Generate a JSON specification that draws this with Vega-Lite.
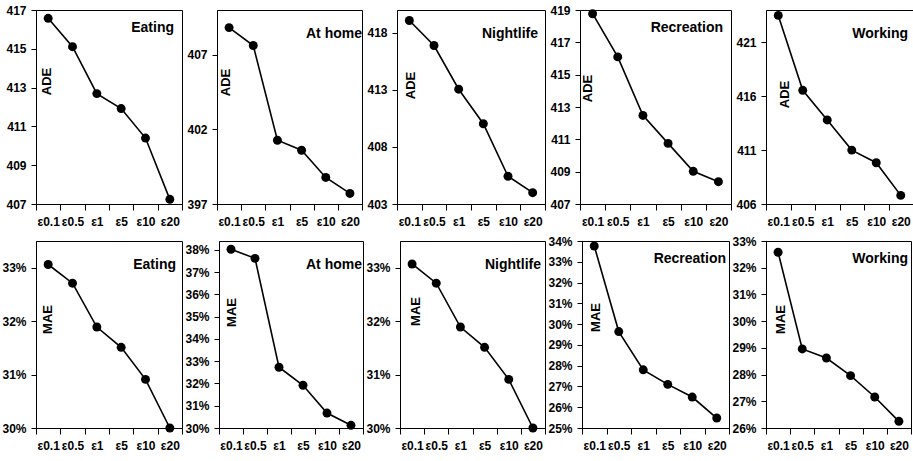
{
"$schema":"https://vega.github.io/schema/vega-lite/v6.json",
"padding":{"left":1,"top":3,"right":0,"bottom":0},
"data":{"values":[
{"a":"Eating","m":"ADE","e":"ε0.1","v":416.57},{"a":"Eating","m":"ADE","e":"ε0.5","v":415.11},{"a":"Eating","m":"ADE","e":"ε1","v":412.69},{"a":"Eating","m":"ADE","e":"ε5","v":411.92},{"a":"Eating","m":"ADE","e":"ε10","v":410.40},{"a":"Eating","m":"ADE","e":"ε20","v":407.24},
{"a":"At home","m":"ADE","e":"ε0.1","v":408.82},{"a":"At home","m":"ADE","e":"ε0.5","v":407.62},{"a":"At home","m":"ADE","e":"ε1","v":401.27},{"a":"At home","m":"ADE","e":"ε5","v":400.60},{"a":"At home","m":"ADE","e":"ε10","v":398.78},{"a":"At home","m":"ADE","e":"ε20","v":397.71},
{"a":"Nightlife","m":"ADE","e":"ε0.1","v":419.08},{"a":"Nightlife","m":"ADE","e":"ε0.5","v":416.89},{"a":"Nightlife","m":"ADE","e":"ε1","v":413.06},{"a":"Nightlife","m":"ADE","e":"ε5","v":410.03},{"a":"Nightlife","m":"ADE","e":"ε10","v":405.43},{"a":"Nightlife","m":"ADE","e":"ε20","v":403.99},
{"a":"Recreation","m":"ADE","e":"ε0.1","v":418.77},{"a":"Recreation","m":"ADE","e":"ε0.5","v":416.10},{"a":"Recreation","m":"ADE","e":"ε1","v":412.48},{"a":"Recreation","m":"ADE","e":"ε5","v":410.75},{"a":"Recreation","m":"ADE","e":"ε10","v":409.02},{"a":"Recreation","m":"ADE","e":"ε20","v":408.38},
{"a":"Working","m":"ADE","e":"ε0.1","v":423.50},{"a":"Working","m":"ADE","e":"ε0.5","v":416.55},{"a":"Working","m":"ADE","e":"ε1","v":413.80},{"a":"Working","m":"ADE","e":"ε5","v":411.00},{"a":"Working","m":"ADE","e":"ε10","v":409.83},{"a":"Working","m":"ADE","e":"ε20","v":406.80},
{"a":"Eating","m":"MAE","e":"ε0.1","v":0.3306},{"a":"Eating","m":"MAE","e":"ε0.5","v":0.3271},{"a":"Eating","m":"MAE","e":"ε1","v":0.3189},{"a":"Eating","m":"MAE","e":"ε5","v":0.3151},{"a":"Eating","m":"MAE","e":"ε10","v":0.3091},{"a":"Eating","m":"MAE","e":"ε20","v":0.3000},
{"a":"At home","m":"MAE","e":"ε0.1","v":0.3803},{"a":"At home","m":"MAE","e":"ε0.5","v":0.3762},{"a":"At home","m":"MAE","e":"ε1","v":0.3273},{"a":"At home","m":"MAE","e":"ε5","v":0.3192},{"a":"At home","m":"MAE","e":"ε10","v":0.3067},{"a":"At home","m":"MAE","e":"ε20","v":0.3012},
{"a":"Nightlife","m":"MAE","e":"ε0.1","v":0.3307},{"a":"Nightlife","m":"MAE","e":"ε0.5","v":0.3271},{"a":"Nightlife","m":"MAE","e":"ε1","v":0.3189},{"a":"Nightlife","m":"MAE","e":"ε5","v":0.3151},{"a":"Nightlife","m":"MAE","e":"ε10","v":0.3091},{"a":"Nightlife","m":"MAE","e":"ε20","v":0.3000},
{"a":"Recreation","m":"MAE","e":"ε0.1","v":0.3376},{"a":"Recreation","m":"MAE","e":"ε0.5","v":0.2964},{"a":"Recreation","m":"MAE","e":"ε1","v":0.2780},{"a":"Recreation","m":"MAE","e":"ε5","v":0.2710},{"a":"Recreation","m":"MAE","e":"ε10","v":0.2649},{"a":"Recreation","m":"MAE","e":"ε20","v":0.2548},
{"a":"Working","m":"MAE","e":"ε0.1","v":0.3258},{"a":"Working","m":"MAE","e":"ε0.5","v":0.2896},{"a":"Working","m":"MAE","e":"ε1","v":0.2862},{"a":"Working","m":"MAE","e":"ε5","v":0.2796},{"a":"Working","m":"MAE","e":"ε10","v":0.2716},{"a":"Working","m":"MAE","e":"ε20","v":0.2625}
]},
"spacing":6,
"vconcat":[
{"hconcat":[
{"width":146,"height":194,"title":{"text":"Eating","dx":-8},
"transform":[{"filter":"datum.a==='Eating' && datum.m==='ADE'"}],
"encoding":{"x":{"field":"e","type":"ordinal","sort":["ε0.1","ε0.5","ε1","ε5","ε10","ε20"],"scale":{"type":"band","paddingInner":0,"paddingOuter":0},"axis":{"title":null,"tickBand":"extent","labelAngle":0,"labelOverlap":false}},
"y":{"field":"v","type":"quantitative","scale":{"domain":[407,417],"nice":false,"zero":false},"axis":{"values":[407,409,411,413,415,417],"title":"ADE","titleX":10,"titleY":71}}},
"layer":[{"mark":{"type":"line","color":"black","strokeWidth":1.6}},{"mark":{"type":"circle","color":"black","size":80,"opacity":1}}]},
{"width":145,"height":194,"title":{"text":"At home","dx":0},
"transform":[{"filter":"datum.a==='At home' && datum.m==='ADE'"}],
"encoding":{"x":{"field":"e","type":"ordinal","sort":["ε0.1","ε0.5","ε1","ε5","ε10","ε20"],"scale":{"type":"band","paddingInner":0,"paddingOuter":0},"axis":{"title":null,"tickBand":"extent","labelAngle":0,"labelOverlap":false}},
"y":{"field":"v","type":"quantitative","scale":{"domain":[397,410],"nice":false,"zero":false},"axis":{"values":[397,402,407],"title":"ADE","titleX":8,"titleY":72}}},
"layer":[{"mark":{"type":"line","color":"black","strokeWidth":1.6}},{"mark":{"type":"circle","color":"black","size":80,"opacity":1}}]},
{"width":148,"height":194,"title":{"text":"Nightlife","dx":-7},
"transform":[{"filter":"datum.a==='Nightlife' && datum.m==='ADE'"}],
"encoding":{"x":{"field":"e","type":"ordinal","sort":["ε0.1","ε0.5","ε1","ε5","ε10","ε20"],"scale":{"type":"band","paddingInner":0,"paddingOuter":0},"axis":{"title":null,"tickBand":"extent","labelAngle":0,"labelOverlap":false}},
"y":{"field":"v","type":"quantitative","scale":{"domain":[403,420],"nice":false,"zero":false},"axis":{"values":[403,408,413,418],"title":"ADE","titleX":13,"titleY":75}}},
"layer":[{"mark":{"type":"line","color":"black","strokeWidth":1.6}},{"mark":{"type":"circle","color":"black","size":80,"opacity":1}}]},
{"width":151,"height":194,"title":{"text":"Recreation","dx":-8},
"transform":[{"filter":"datum.a==='Recreation' && datum.m==='ADE'"}],
"encoding":{"x":{"field":"e","type":"ordinal","sort":["ε0.1","ε0.5","ε1","ε5","ε10","ε20"],"scale":{"type":"band","paddingInner":0,"paddingOuter":0},"axis":{"title":null,"tickBand":"extent","labelAngle":0,"labelOverlap":false}},
"y":{"field":"v","type":"quantitative","scale":{"domain":[407,419],"nice":false,"zero":false},"axis":{"values":[407,409,411,413,415,417,419],"title":"ADE","titleX":7,"titleY":78}}},
"layer":[{"mark":{"type":"line","color":"black","strokeWidth":1.6}},{"mark":{"type":"circle","color":"black","size":80,"opacity":1}}]},
{"width":147,"height":194,"title":{"text":"Working","dx":-5},
"transform":[{"filter":"datum.a==='Working' && datum.m==='ADE'"}],
"encoding":{"x":{"field":"e","type":"ordinal","sort":["ε0.1","ε0.5","ε1","ε5","ε10","ε20"],"scale":{"type":"band","paddingInner":0,"paddingOuter":0},"axis":{"title":null,"tickBand":"extent","labelAngle":0,"labelOverlap":false}},
"y":{"field":"v","type":"quantitative","scale":{"domain":[406,424],"nice":false,"zero":false},"axis":{"values":[406,411,416,421],"title":"ADE","titleX":18,"titleY":84}}},
"layer":[{"mark":{"type":"line","color":"black","strokeWidth":1.6}},{"mark":{"type":"circle","color":"black","size":80,"opacity":1}}]}
],"spacing":35,"bounds":"flush"},
{"hconcat":[
{"width":146,"height":187,"title":{"text":"Eating","dx":-6},
"transform":[{"filter":"datum.a==='Eating' && datum.m==='MAE'"}],
"encoding":{"x":{"field":"e","type":"ordinal","sort":["ε0.1","ε0.5","ε1","ε5","ε10","ε20"],"scale":{"type":"band","paddingInner":0,"paddingOuter":0},"axis":{"title":null,"tickBand":"extent","labelAngle":0,"labelOverlap":false}},
"y":{"field":"v","type":"quantitative","scale":{"domain":[0.30,0.335],"nice":false,"zero":false},"axis":{"values":[0.30,0.31,0.32,0.33],"format":".0%","title":"MAE","titleX":11,"titleY":78}}},
"layer":[{"mark":{"type":"line","color":"black","strokeWidth":1.6}},{"mark":{"type":"circle","color":"black","size":80,"opacity":1}}]},
{"width":144,"height":187,"title":{"text":"At home","dx":-1},
"transform":[{"filter":"datum.a==='At home' && datum.m==='MAE'"}],
"encoding":{"x":{"field":"e","type":"ordinal","sort":["ε0.1","ε0.5","ε1","ε5","ε10","ε20"],"scale":{"type":"band","paddingInner":0,"paddingOuter":0},"axis":{"title":null,"tickBand":"extent","labelAngle":0,"labelOverlap":false}},
"y":{"field":"v","type":"quantitative","scale":{"domain":[0.30,0.384],"nice":false,"zero":false},"axis":{"values":[0.30,0.31,0.32,0.33,0.34,0.35,0.36,0.37,0.38],"format":".0%","title":"MAE","titleX":12,"titleY":71}}},
"layer":[{"mark":{"type":"line","color":"black","strokeWidth":1.6}},{"mark":{"type":"circle","color":"black","size":80,"opacity":1}}]},
{"width":145,"height":187,"title":{"text":"Nightlife","dx":-4},
"transform":[{"filter":"datum.a==='Nightlife' && datum.m==='MAE'"}],
"encoding":{"x":{"field":"e","type":"ordinal","sort":["ε0.1","ε0.5","ε1","ε5","ε10","ε20"],"scale":{"type":"band","paddingInner":0,"paddingOuter":0},"axis":{"title":null,"tickBand":"extent","labelAngle":0,"labelOverlap":false}},
"y":{"field":"v","type":"quantitative","scale":{"domain":[0.30,0.335],"nice":false,"zero":false},"axis":{"values":[0.30,0.31,0.32,0.33],"format":".0%","title":"MAE","titleX":15,"titleY":70}}},
"layer":[{"mark":{"type":"line","color":"black","strokeWidth":1.6}},{"mark":{"type":"circle","color":"black","size":80,"opacity":1}}]},
{"width":147,"height":187,"title":{"text":"Recreation","dx":-3},
"transform":[{"filter":"datum.a==='Recreation' && datum.m==='MAE'"}],
"encoding":{"x":{"field":"e","type":"ordinal","sort":["ε0.1","ε0.5","ε1","ε5","ε10","ε20"],"scale":{"type":"band","paddingInner":0,"paddingOuter":0},"axis":{"title":null,"tickBand":"extent","labelAngle":0,"labelOverlap":false}},
"y":{"field":"v","type":"quantitative","scale":{"domain":[0.25,0.34],"nice":false,"zero":false},"axis":{"values":[0.25,0.26,0.27,0.28,0.29,0.30,0.31,0.32,0.33,0.34],"format":".0%","title":"MAE","titleX":13,"titleY":76}}},
"layer":[{"mark":{"type":"line","color":"black","strokeWidth":1.6}},{"mark":{"type":"circle","color":"black","size":80,"opacity":1}}]},
{"width":145,"height":187,"title":{"text":"Working","dx":-3},
"transform":[{"filter":"datum.a==='Working' && datum.m==='MAE'"}],
"encoding":{"x":{"field":"e","type":"ordinal","sort":["ε0.1","ε0.5","ε1","ε5","ε10","ε20"],"scale":{"type":"band","paddingInner":0,"paddingOuter":0},"axis":{"title":null,"tickBand":"extent","labelAngle":0,"labelOverlap":false}},
"y":{"field":"v","type":"quantitative","scale":{"domain":[0.26,0.33],"nice":false,"zero":false},"axis":{"values":[0.26,0.27,0.28,0.29,0.30,0.31,0.32,0.33],"format":".0%","title":"MAE","titleX":14,"titleY":78}}},
"layer":[{"mark":{"type":"line","color":"black","strokeWidth":1.6}},{"mark":{"type":"circle","color":"black","size":80,"opacity":1}}]}
],"spacing":37,"bounds":"flush"}
],
"config":{
"view":{"stroke":"black","strokeWidth":1},
"axis":{"grid":false,"domainColor":"black","domainWidth":1,"tickColor":"black","tickSize":5,"labelFont":"Liberation Sans","labelFontSize":12,"labelFontWeight":"bold","labelColor":"black","titleFont":"Liberation Sans","titleFontSize":13,"titleFontWeight":"bold","titleColor":"black"},
"axisX":{"tickSize":6,"labelPadding":6,"labelFontSize":12},
"axisY":{"labelPadding":5,"titleAlign":"center","titleBaseline":"middle","titleAngle":-90},
"title":{"font":"Liberation Sans","fontSize":14,"fontWeight":"bold","anchor":"end","frame":"group","baseline":"alphabetic","offset":-31,"color":"black"}
}
}
